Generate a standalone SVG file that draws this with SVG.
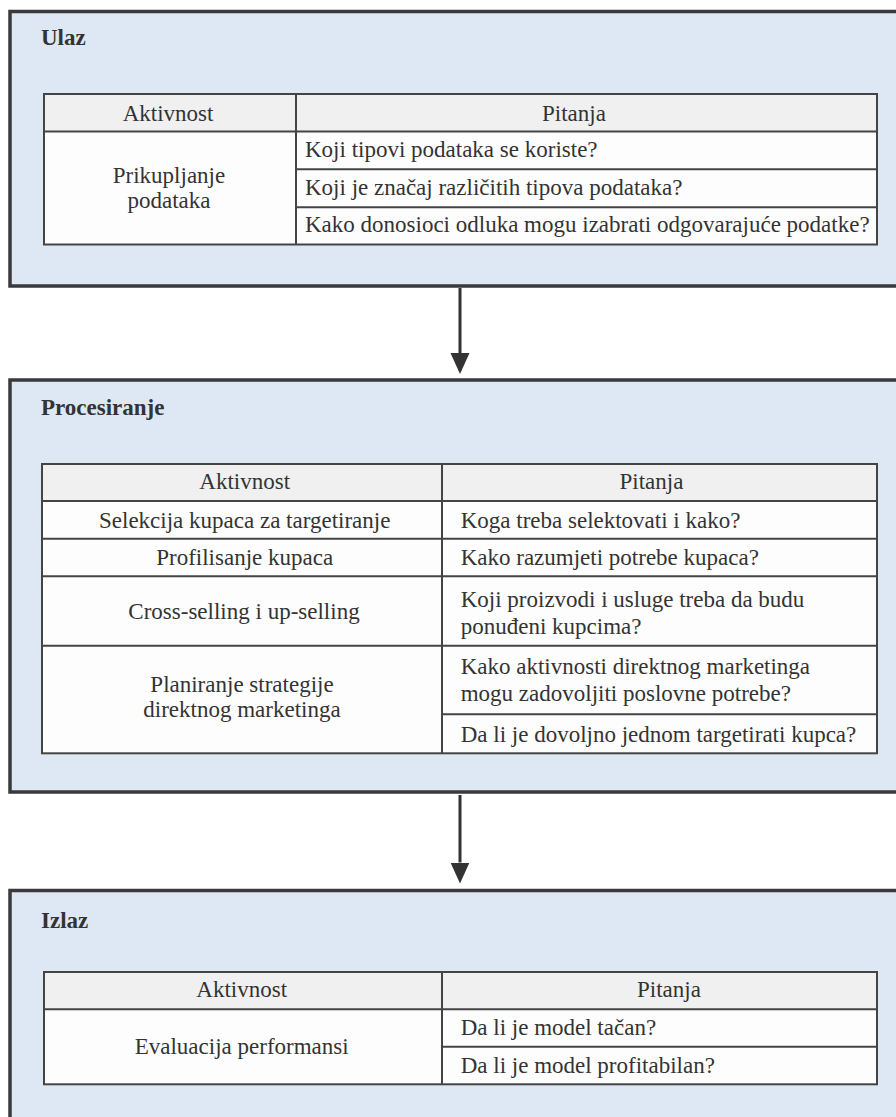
<svg xmlns="http://www.w3.org/2000/svg" width="896" height="1117" viewBox="0 0 896 1117">
<defs>
<style>
.box{fill:#dde8f4;stroke:#3a3a3a;stroke-width:3.5}
.hdr{fill:#f0f0f0;stroke:none}
.body{fill:#fdfdfd;stroke:none}
.grid{fill:none;stroke:#444;stroke-width:2}
.ln{stroke:#444;stroke-width:2}
.t{font-family:"Liberation Serif","Times New Roman",serif;font-size:23px;fill:#333}
.c{text-anchor:middle}
.title{font-family:"Liberation Serif","Times New Roman",serif;font-size:23px;font-weight:bold;fill:#333}
.conn{stroke:#333;stroke-width:3;fill:none}
</style>
<marker id="ah" markerUnits="userSpaceOnUse" markerWidth="22" markerHeight="20" refX="0" refY="9.5" orient="auto">
<path d="M0,0 L21,9.5 L0,19 Z" fill="#333"/>
</marker>
</defs>
<rect width="896" height="1117" fill="#ffffff"/>

<g id="ulaz">
<rect class="box" x="10" y="11.5" width="900" height="274.5"/>
<text class="title" x="41" y="45">Ulaz</text>
<rect class="hdr" x="44" y="94" width="833" height="37.5"/>
<rect class="body" x="44" y="131.5" width="833" height="113"/>
<rect class="grid" x="44" y="94" width="833" height="150.5"/>
<line class="ln" x1="44" y1="131.5" x2="877" y2="131.5"/>
<line class="ln" x1="296" y1="94" x2="296" y2="244.5"/>
<line class="ln" x1="296" y1="169.3" x2="877" y2="169.3"/>
<line class="ln" x1="296" y1="207.3" x2="877" y2="207.3"/>
<text class="t c" x="168" y="120.5">Aktivnost</text>
<text class="t c" x="574" y="120.5">Pitanja</text>
<text class="t c" x="169" y="182.5">Prikupljanje</text>
<text class="t c" x="169" y="208">podataka</text>
<text class="t" x="305" y="157.3">Koji tipovi podataka se koriste?</text>
<text class="t" x="305" y="195">Koji je značaj različitih tipova podataka?</text>
<text class="t" x="305" y="231.7">Kako donosioci odluka mogu izabrati odgovarajuće podatke?</text>
</g>

<g id="procesiranje">
<rect class="box" x="10" y="380" width="900" height="412"/>
<text class="title" x="41" y="415">Procesiranje</text>
<rect class="hdr" x="42" y="464" width="835" height="37"/>
<rect class="body" x="42" y="501" width="835" height="252.3"/>
<rect class="grid" x="42" y="464" width="835" height="289.3"/>
<line class="ln" x1="42" y1="501" x2="877" y2="501"/>
<line class="ln" x1="442" y1="464" x2="442" y2="753.3"/>
<line class="ln" x1="42" y1="538.7" x2="877" y2="538.7"/>
<line class="ln" x1="42" y1="576.3" x2="877" y2="576.3"/>
<line class="ln" x1="42" y1="645.7" x2="877" y2="645.7"/>
<line class="ln" x1="442" y1="714.3" x2="877" y2="714.3"/>
<text class="t c" x="244.7" y="489">Aktivnost</text>
<text class="t c" x="651.5" y="489">Pitanja</text>
<text class="t c" x="244.7" y="528.3">Selekcija kupaca za targetiranje</text>
<text class="t c" x="244.7" y="565">Profilisanje kupaca</text>
<text class="t c" x="244" y="619">Cross-selling i up-selling</text>
<text class="t c" x="242" y="691.7">Planiranje strategije</text>
<text class="t c" x="242" y="717.3">direktnog marketinga</text>
<text class="t" x="460.7" y="528.3">Koga treba selektovati i kako?</text>
<text class="t" x="460.7" y="565">Kako razumjeti potrebe kupaca?</text>
<text class="t" x="460.7" y="606.7">Koji proizvodi i usluge treba da budu</text>
<text class="t" x="460.7" y="634">ponuđeni kupcima?</text>
<text class="t" x="460.7" y="674">Kako aktivnosti direktnog marketinga</text>
<text class="t" x="460.7" y="700.7">mogu zadovoljiti poslovne potrebe?</text>
<text class="t" x="460.7" y="741.7">Da li je dovoljno jednom targetirati kupca?</text>
</g>

<g id="izlaz">
<rect class="box" x="10" y="890.5" width="900" height="260"/>
<text class="title" x="41" y="927.7">Izlaz</text>
<rect class="hdr" x="44" y="972" width="833" height="37.3"/>
<rect class="body" x="44" y="1009.3" width="833" height="75"/>
<rect class="grid" x="44" y="972" width="833" height="112.3"/>
<line class="ln" x1="44" y1="1009.3" x2="877" y2="1009.3"/>
<line class="ln" x1="442" y1="972" x2="442" y2="1084.3"/>
<line class="ln" x1="442" y1="1046.7" x2="877" y2="1046.7"/>
<text class="t c" x="241.7" y="997.3">Aktivnost</text>
<text class="t c" x="669" y="997.3">Pitanja</text>
<text class="t c" x="241.7" y="1054">Evaluacija performansi</text>
<text class="t" x="460.7" y="1035">Da li je model tačan?</text>
<text class="t" x="460.7" y="1072.7">Da li je model profitabilan?</text>
</g>

<g id="connectors">
<line class="conn" x1="460" y1="288" x2="460" y2="353" marker-end="url(#ah)"/>
<line class="conn" x1="460" y1="795" x2="460" y2="862.5" marker-end="url(#ah)"/>
</g>
</svg>
